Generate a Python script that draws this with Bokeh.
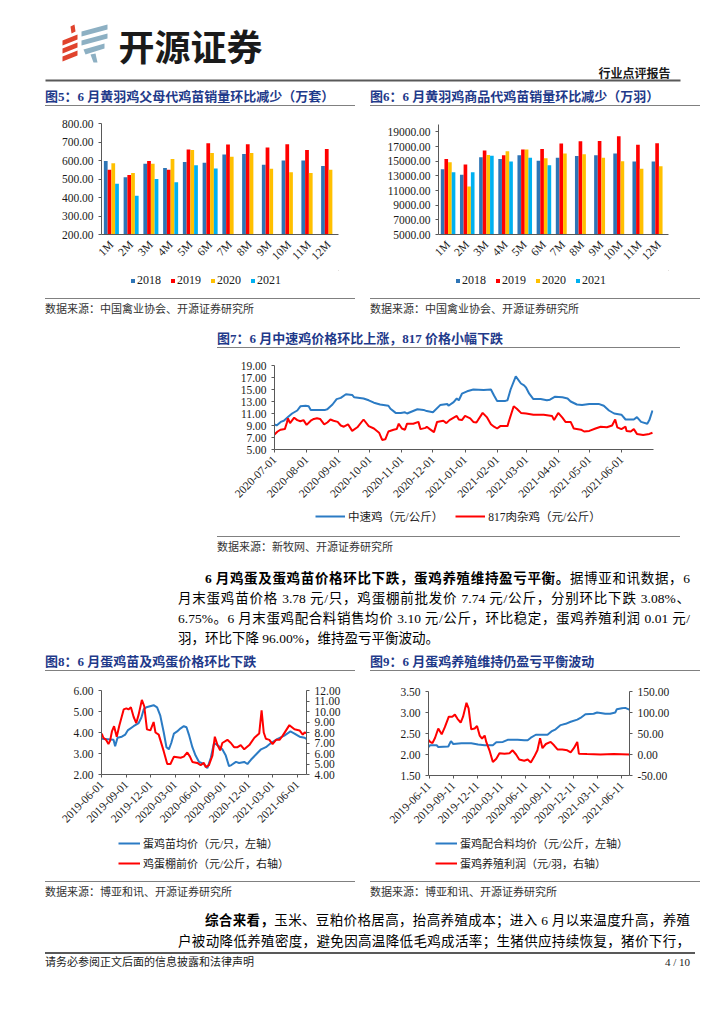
import math
import numpy as np
import pandas as pd
from bokeh.plotting import figure
from bokeh.models import (ColumnDataSource, FactorRange, Range1d, LinearAxis, FixedTicker,
                          PrintfTickFormatter, DatetimeTickFormatter, Legend, LegendItem, Div, Spacer)
from bokeh.layouts import column, row
from bokeh.transform import dodge
from bokeh.core.properties import value
from bokeh.embed import file_html
from bokeh.resources import INLINE

NAN = float("nan")

# ---------------- data ----------------
months = ["1M", "2M", "3M", "4M", "5M", "6M", "7M", "8M", "9M", "10M", "11M", "12M"]
years = ["2018", "2019", "2020", "2021"]

# Fig5: 黄羽鸡父母代鸡苗销量（万套）
f5_2018 = [597, 510, 582, 560, 592, 588, 632, 635, 577, 600, 600, 570]
f5_2019 = [550, 522, 597, 550, 660, 693, 686, 688, 670, 688, 657, 662]
f5_2020 = [585, 532, 582, 608, 657, 640, 620, 640, 555, 537, 533, 550]
f5_2021 = [475, 410, 500, 482, 575, 557, NAN, NAN, NAN, NAN, NAN, NAN]
f5_ticks = [200, 300, 400, 500, 600, 700, 800]

# Fig6: 黄羽鸡商品代鸡苗销量（万羽）
f6_2018 = [13900, 13150, 15550, 15300, 15800, 15050, 15450, 15700, 15800, 16050, 14950, 14950]
f6_2019 = [15300, 14550, 16450, 15800, 16600, 16650, 17400, 17700, 17750, 18400, 17250, 17450]
f6_2020 = [14850, 11550, 15850, 16350, 16600, 15400, 16050, 15950, 15450, 15000, 13950, 14300]
f6_2021 = [13500, 13500, 15750, 14950, 15450, 14450, NAN, NAN, NAN, NAN, NAN, NAN]
f6_ticks = [5000, 7000, 9000, 11000, 13000, 15000, 17000, 19000]

# Fig7: 中速鸡 / 817肉杂鸡（元/公斤）
f7_mid_dates = ["2020-07-01", "2020-07-03", "2020-07-07", "2020-07-10", "2020-07-14", "2020-07-18",
                "2020-07-23", "2020-07-26", "2020-07-31", "2020-08-03", "2020-08-05", "2020-08-19",
                "2020-08-21", "2020-08-26", "2020-08-30", "2020-09-03", "2020-09-08", "2020-09-14",
                "2020-09-16", "2020-09-25", "2020-09-30", "2020-10-05", "2020-10-11", "2020-10-19",
                "2020-10-21", "2020-10-26", "2020-10-31", "2020-11-04", "2020-11-06", "2020-11-16",
                "2020-11-22", "2020-11-25", "2020-12-01", "2020-12-08", "2020-12-15", "2020-12-16",
                "2020-12-21", "2020-12-24", "2020-12-26", "2020-12-29", "2021-01-03", "2021-01-09",
                "2021-01-19", "2021-01-26", "2021-01-29", "2021-02-01", "2021-02-09", "2021-02-11",
                "2021-02-14", "2021-02-19", "2021-02-24", "2021-02-27", "2021-03-01", "2021-03-04",
                "2021-03-08", "2021-03-15", "2021-03-21", "2021-03-24", "2021-03-29", "2021-04-05",
                "2021-04-10", "2021-04-13", "2021-04-19", "2021-04-24", "2021-05-01", "2021-05-10",
                "2021-05-15", "2021-05-20", "2021-05-25", "2021-06-01", "2021-06-05", "2021-06-13",
                "2021-06-16", "2021-06-20", "2021-06-26", "2021-06-28", "2021-07-01"]
f7_mid = [9.2, 9.0, 9.6, 9.8, 10.4, 11.0, 11.5, 12.2, 12.3, 12.2, 11.6, 11.6,
          11.7, 12.5, 13.4, 13.6, 14.2, 14.1, 13.7, 13.5, 13.2, 12.8, 12.5, 12.3,
          11.8, 11.1, 11.1, 11.2, 11.0, 11.7, 11.6, 11.4, 11.2, 12.4, 12.6, 12.3,
          12.9, 13.5, 13.2, 14.3, 14.7, 15.0, 14.9, 15.0, 14.0, 13.1, 13.1, 13.2,
          15.0, 17.2, 16.0, 15.7, 15.3, 14.3, 13.4, 13.4, 13.2, 13.3, 13.8, 13.7,
          13.5, 13.0, 12.5, 12.4, 12.6, 12.6, 12.3, 11.5, 11.0, 10.8, 10.0, 10.0,
          10.4, 9.6, 9.3, 9.9, 11.5]
f7_817_dates = ["2020-07-01", "2020-07-04", "2020-07-07", "2020-07-11", "2020-07-13", "2020-07-14",
                "2020-07-16", "2020-07-20", "2020-07-23", "2020-07-26", "2020-07-29", "2020-08-01",
                "2020-08-05", "2020-08-08", "2020-08-11", "2020-08-14", "2020-08-18", "2020-08-21",
                "2020-08-24", "2020-08-27", "2020-08-31", "2020-09-03", "2020-09-06", "2020-09-10",
                "2020-09-14", "2020-09-19", "2020-09-25", "2020-09-30", "2020-10-05", "2020-10-10",
                "2020-10-13", "2020-10-16", "2020-10-19", "2020-10-24", "2020-10-27", "2020-10-29",
                "2020-11-01", "2020-11-04", "2020-11-06", "2020-11-12", "2020-11-17", "2020-11-19",
                "2020-11-24", "2020-11-25", "2020-11-28", "2020-12-02", "2020-12-05", "2020-12-11",
                "2020-12-14", "2020-12-17", "2020-12-24", "2020-12-26", "2020-12-29", "2021-01-01",
                "2021-01-06", "2021-01-09", "2021-01-12", "2021-01-18", "2021-01-22", "2021-01-26",
                "2021-01-29", "2021-02-01", "2021-02-04", "2021-02-11", "2021-02-12", "2021-02-17",
                "2021-02-20", "2021-02-24", "2021-03-01", "2021-03-08", "2021-03-18", "2021-03-26",
                "2021-03-28", "2021-04-01", "2021-04-05", "2021-04-08", "2021-04-13", "2021-04-16",
                "2021-04-23", "2021-04-26", "2021-05-01", "2021-05-07", "2021-05-12", "2021-05-18",
                "2021-05-23", "2021-05-26", "2021-05-28", "2021-06-01", "2021-06-05", "2021-06-06",
                "2021-06-10", "2021-06-13", "2021-06-16", "2021-06-22", "2021-06-28", "2021-07-01"]
f7_817 = [7.5, 8.0, 8.3, 8.4, 9.5, 10.2, 9.4, 10.3, 9.9, 9.7, 9.9, 9.1,
          9.8, 10.1, 10.2, 10.1, 9.2, 9.5, 10.0, 9.8, 9.6, 9.0, 8.8, 9.2,
          8.1, 8.7, 10.0, 8.9, 8.5, 7.8, 6.6, 6.7, 8.0, 8.3, 8.4, 9.3,
          8.5, 8.3, 9.3, 9.3, 9.6, 8.4, 8.6, 8.8, 8.4, 7.9, 9.6, 9.8,
          9.4, 9.9, 10.6, 10.0, 9.9, 10.6, 10.2, 9.6, 9.5, 11.1, 10.4, 9.2,
          8.8, 8.5, 8.9, 8.9, 9.5, 12.2, 11.8, 11.1, 11.0, 10.8, 10.8, 10.6,
          9.9, 11.1, 10.3, 9.6, 9.6, 8.5, 8.3, 8.0, 8.1, 8.5, 8.8, 8.7,
          9.0, 10.0, 8.7, 8.4, 8.8, 8.1, 8.0, 8.4, 7.6, 7.4, 7.6, 7.8]
f7_ticks = ["2020-07-01", "2020-08-01", "2020-09-01", "2020-10-01", "2020-11-01", "2020-12-01",
            "2021-01-01", "2021-02-01", "2021-03-01", "2021-04-01", "2021-05-01", "2021-06-01"]
f7_yticks = [5, 7, 9, 11, 13, 15, 17, 19]

# Fig8: 蛋鸡苗均价（元/只，左轴）/ 鸡蛋棚前价（元/公斤，右轴）
f8_chick_dates = ["2019-06-01", "2019-07-15", "2019-07-21", "2019-07-30", "2019-08-15", "2019-08-28",
                  "2019-09-06", "2019-09-28", "2019-10-17", "2019-10-27", "2019-11-05", "2019-11-15",
                  "2019-12-12", "2019-12-25", "2020-01-06", "2020-01-19", "2020-01-29", "2020-02-07",
                  "2020-02-16", "2020-02-26", "2020-03-09", "2020-03-22", "2020-04-03", "2020-04-13",
                  "2020-04-22", "2020-05-05", "2020-05-17", "2020-05-30", "2020-06-17", "2020-06-30",
                  "2020-07-13", "2020-07-25", "2020-08-07", "2020-08-25", "2020-09-07", "2020-09-19",
                  "2020-09-28", "2020-10-15", "2020-10-27", "2020-11-15", "2020-11-27", "2020-12-10",
                  "2020-12-29", "2021-01-17", "2021-02-04", "2021-02-23", "2021-03-20", "2021-04-14",
                  "2021-05-07", "2021-05-22", "2021-06-10", "2021-06-29", "2021-07-05"]
f8_chick = [3.70, 3.65, 3.35, 3.75, 3.80, 3.90, 4.10, 4.30, 4.45, 4.70, 5.10, 5.20,
            5.30, 5.20, 4.80, 4.00, 3.30, 3.20, 3.50, 3.95, 4.05, 4.20, 4.30, 4.25,
            3.90, 3.30, 2.90, 2.60, 2.50, 2.30, 2.80, 3.50, 3.40, 3.20, 2.90, 2.40,
            2.45, 2.60, 2.55, 2.60, 2.50, 2.70, 2.95, 3.20, 3.30, 3.50, 3.70, 3.85,
            4.05, 3.95, 3.80, 3.75, 3.70]
f8_egg_dates = ["2019-06-01", "2019-06-07", "2019-06-17", "2019-06-26", "2019-07-02", "2019-07-09",
                "2019-07-17", "2019-07-27", "2019-08-06", "2019-08-22", "2019-09-01", "2019-09-09",
                "2019-09-18", "2019-09-28", "2019-10-08", "2019-10-17", "2019-10-29", "2019-11-07",
                "2019-11-17", "2019-11-30", "2019-12-12", "2019-12-19", "2019-12-31", "2020-01-06",
                "2020-01-19", "2020-02-01", "2020-02-13", "2020-02-26", "2020-03-22", "2020-04-03",
                "2020-04-16", "2020-04-26", "2020-05-05", "2020-05-23", "2020-06-05", "2020-06-17",
                "2020-06-24", "2020-07-06", "2020-07-19", "2020-07-28", "2020-08-07", "2020-08-17",
                "2020-08-25", "2020-09-13", "2020-09-26", "2020-10-08", "2020-10-21", "2020-11-02",
                "2020-11-15", "2020-12-04", "2020-12-23", "2021-01-10", "2021-01-19", "2021-01-27",
                "2021-02-04", "2021-02-17", "2021-03-01", "2021-03-14", "2021-03-27", "2021-04-08",
                "2021-05-03", "2021-05-22", "2021-06-10", "2021-06-22", "2021-06-29", "2021-07-05"]
f8_egg = [7.9, 7.5, 7.3, 6.9, 7.2, 8.1, 8.6, 7.6, 8.7, 10.2, 10.3, 10.2,
          10.4, 9.5, 8.9, 9.7, 11.1, 10.5, 8.3, 8.2, 9.0, 8.0, 7.8, 7.3,
          6.2, 5.0, 5.0, 5.7, 5.6, 5.7, 6.1, 5.7, 5.2, 5.1, 4.9, 5.1,
          4.7, 4.9, 5.8, 7.6, 6.8, 6.3, 7.0, 7.3, 7.0, 6.6, 6.6, 6.8,
          6.4, 6.8, 7.5, 7.9, 10.1, 8.0, 7.4, 7.3, 6.9, 7.3, 7.3, 7.7,
          8.7, 8.3, 8.2, 7.8, 8.0, 7.95]
f8_ticks = ["2019-06-01", "2019-09-01", "2019-12-01", "2020-03-01", "2020-06-01",
            "2020-09-01", "2020-12-01", "2021-03-01", "2021-06-01"]
f8_lticks = [2, 3, 4, 5, 6]
f8_rticks = [4, 5, 6, 7, 8, 9, 10, 11, 12]

# Fig9: 蛋鸡配合料均价（元/公斤，左轴）/ 蛋鸡养殖利润（元/羽，右轴）
f9_feed_dates = ["2019-06-09", "2019-06-15", "2019-07-10", "2019-07-16", "2019-08-23", "2019-09-02",
                 "2019-09-11", "2019-10-12", "2019-11-18", "2019-12-14", "2020-01-08", "2020-02-08",
                 "2020-02-21", "2020-03-17", "2020-04-04", "2020-05-12", "2020-06-06", "2020-06-19",
                 "2020-07-01", "2020-07-20", "2020-08-08", "2020-09-02", "2020-09-17", "2020-10-03",
                 "2020-10-22", "2020-11-10", "2020-11-29", "2020-12-24", "2021-01-05", "2021-01-24",
                 "2021-02-24", "2021-03-09", "2021-03-22", "2021-04-09", "2021-04-28", "2021-05-17",
                 "2021-05-23", "2021-06-11", "2021-06-24", "2021-07-09"]
f9_feed = [2.18, 2.22, 2.22, 2.18, 2.19, 2.32, 2.25, 2.27, 2.27, 2.24, 2.22, 2.22,
           2.29, 2.30, 2.35, 2.35, 2.34, 2.34, 2.40, 2.47, 2.47, 2.47, 2.55, 2.60,
           2.70, 2.73, 2.78, 2.83, 2.87, 2.96, 2.97, 3.00, 2.99, 2.97, 2.97, 3.00,
           3.08, 3.10, 3.11, 3.07]
f9_profit_dates = ["2019-06-09", "2019-06-15", "2019-06-24", "2019-07-04", "2019-07-16", "2019-07-29",
                   "2019-08-10", "2019-08-25", "2019-09-07", "2019-09-17", "2019-09-27", "2019-10-09",
                   "2019-10-18", "2019-10-31", "2019-11-08", "2019-11-18", "2019-12-01", "2019-12-10",
                   "2019-12-20", "2019-12-29", "2020-01-08", "2020-01-14", "2020-01-26", "2020-02-08",
                   "2020-02-21", "2020-03-04", "2020-03-23", "2020-04-11", "2020-04-23", "2020-05-06",
                   "2020-05-18", "2020-06-06", "2020-06-19", "2020-07-01", "2020-07-14", "2020-07-26",
                   "2020-08-05", "2020-08-14", "2020-08-27", "2020-09-14", "2020-09-27", "2020-10-10",
                   "2020-10-28", "2020-11-16", "2020-11-29", "2020-12-11", "2020-12-24", "2020-12-30",
                   "2021-01-30", "2021-03-22", "2021-05-11", "2021-07-09"]
f9_profit = [35, 30, 27, 40, 62, 48, 65, 90, 90, 95, 85, 76,
             90, 123, 110, 60, 62, 68, 45, 38, 45, 30, 10, -18,
             -10, 3, 2, 3, 10, 0, -12, -15, -12, -19, -5, 10,
             39, 15, 25, 30, 22, 12, 12, 10, 5, 15, 30, 2,
             1, 0, 1, 0]
f9_ticks = ["2019-06-11", "2019-09-11", "2019-12-11", "2020-03-11", "2020-06-11",
            "2020-09-11", "2020-12-11", "2021-03-11", "2021-06-11"]
f9_lticks = [1.5, 2.0, 2.5, 3.0, 3.5]
f9_rticks = [-50, 0, 50, 100, 150]

# ---------------- style ----------------
BAR_COLORS = ["#2E75B6", "#FF0000", "#FFC000", "#00B0F0"]
BAR_OFFSETS = [-0.285, -0.095, 0.095, 0.285]
BLUE = "#2B7BC4"
RED = "#FF0000"
AXC = "#595959"
TXT = "#1a1a1a"
NUMFONT = "Liberation Serif"
MIXFONT = "Liberation Serif, Noto Sans CJK SC"
CSSFONT = "'Liberation Serif','Noto Sans CJK SC',serif"
TITLE_BLUE = "#1F3A8A"


def ms(d):
    return pd.Timestamp(d).value / 1e6


def style_axis(ax):
    ax.axis_line_color = AXC
    ax.major_tick_line_color = AXC
    ax.minor_tick_line_color = None
    ax.major_tick_out = 3
    ax.major_tick_in = 0
    ax.major_label_text_font = NUMFONT
    ax.major_label_text_font_size = "11.5px"
    ax.major_label_text_color = TXT


def base_fig(w, h, mb, **kw):
    p = figure(width=w, height=h, output_backend="svg", toolbar_location=None,
               min_border_left=mb[0], min_border_right=mb[1], min_border_top=mb[2],
               min_border_bottom=mb[3], margin=0, **kw)
    p.outline_line_color = None
    p.grid.visible = False
    return p


def legend_fig(w, h, entries, kind, loc, orientation, gw, gh, lh, font, fsize, standoff, spacing):
    """Strip under a chart holding its legend; the keys are proxy glyphs (one point each,
    placed outside the strip's visible range) drawn with the same styles as the chart."""
    lf = figure(width=w, height=h, x_range=Range1d(0, 1), y_range=Range1d(0, 1),
                x_axis_location=None, y_axis_location=None, output_backend="svg",
                toolbar_location=None, min_border=0, margin=0)
    lf.outline_line_color = None
    lf.grid.visible = False
    items = []
    for label, color in entries:
        if kind == "bar":
            r = lf.vbar(x=[5], top=[5], bottom=4, width=0.1, fill_color=color, line_color=None)
        else:
            r = lf.line(x=[5, 6], y=[5, 5], line_color=color, line_width=2)
        items.append(LegendItem(label=label, renderers=[r]))
    lg = Legend(items=items, location=loc, orientation=orientation,
                border_line_color=None, background_fill_alpha=0, padding=0, margin=0,
                spacing=spacing, label_standoff=standoff, glyph_width=gw, glyph_height=gh,
                label_height=lh, label_text_font=font, label_text_font_size=fsize,
                label_text_color=TXT)
    lf.add_layout(lg)
    return lf


def bar_chart(vals, ymin, ymax, yticks, w, h, mb):
    data = {"month": months}
    for y, v in zip(years, vals):
        data["y" + y] = np.array(v, dtype=float)
    src = ColumnDataSource(data)
    p = base_fig(w, h, mb, x_range=FactorRange(factors=months), y_range=Range1d(ymin, ymax))
    for y, off, c in zip(years, BAR_OFFSETS, BAR_COLORS):
        p.vbar(x=dodge("month", off, range=p.x_range), top="y" + y, bottom=ymin,
               width=0.19, source=src, fill_color=c, line_color=None)
    p.yaxis.ticker = FixedTicker(ticks=yticks)
    p.yaxis.formatter = PrintfTickFormatter(format="%.2f")
    style_axis(p.xaxis)
    style_axis(p.yaxis)
    p.xaxis.major_tick_line_color = None
    p.xaxis.major_label_orientation = math.pi / 4
    return p


def dual_chart(w, h, mb, xr, xticks, l_dates, l_vals, l_range, l_ticks,
               r_dates, r_vals, r_range, r_ticks):
    p = base_fig(w, h, mb, x_axis_type="datetime",
                 x_range=Range1d(pd.Timestamp(xr[0]), pd.Timestamp(xr[1])),
                 y_range=Range1d(*l_range))
    p.extra_y_ranges = {"right": Range1d(*r_range)}
    p.line(pd.to_datetime(l_dates), l_vals, line_color=BLUE, line_width=2)
    p.line(pd.to_datetime(r_dates), r_vals, line_color=RED, line_width=2, y_range_name="right")
    rax = LinearAxis(y_range_name="right")
    p.add_layout(rax, "right")
    p.yaxis[0].ticker = FixedTicker(ticks=l_ticks)
    p.yaxis[0].formatter = PrintfTickFormatter(format="%.2f")
    rax.ticker = FixedTicker(ticks=r_ticks)
    rax.formatter = PrintfTickFormatter(format="%.2f")
    p.xaxis.ticker = FixedTicker(ticks=[ms(d) for d in xticks])
    p.xaxis.formatter = DatetimeTickFormatter(days="%Y-%m-%d", months="%Y-%m-%d", years="%Y-%m-%d")
    p.xaxis.major_label_orientation = math.pi / 4
    for ax in [p.xaxis[0], p.yaxis[0], rax]:
        style_axis(ax)
    return p


def title_div(text, w):
    html = ('<div style="width:%dpx;height:18px;line-height:18px;border-bottom:1.5px solid #808080;'
            'font-family:%s;font-size:13px;font-weight:bold;color:%s;white-space:nowrap;">%s</div>'
            % (w, CSSFONT, TITLE_BLUE, text))
    return Div(text=html, width=w, height=22, margin=0)


def source_div(text, w):
    html = ('<div style="width:%dpx;border-top:1.5px solid #808080;height:20px;line-height:20px;'
            'font-family:%s;font-size:11px;color:#333;white-space:nowrap;">%s</div>'
            % (w, CSSFONT, text))
    return Div(text=html, width=w, height=22, margin=0)


def para_div(lines, w, h, lh):
    parts = []
    for i, ln in enumerate(lines):
        last = "justify" if i < len(lines) - 1 or len(lines) == 2 else "left"
        indent = "text-indent:27px;" if i == 0 else ""
        parts.append('<div style="width:%dpx;text-align:justify;text-align-last:%s;white-space:nowrap;%s">%s</div>'
                     % (w, last, indent, ln))
    html = ('<div style="width:%dpx;font-family:%s;font-size:13.5px;line-height:%dpx;color:#000;">%s</div>'
            % (w, CSSFONT, lh, "".join(parts)))
    return Div(text=html, width=w, height=h, margin=0)


# ---------------- header ----------------
ph = figure(width=716, height=80, x_range=Range1d(8, 724), y_range=Range1d(88, 8),
            x_axis_location=None, y_axis_location=None, output_backend="svg",
            toolbar_location=None, min_border=0, margin=0)
ph.outline_line_color = None
ph.grid.visible = False
logo_xs = [[70, 74, 75, 71], [62, 77, 77, 62], [62, 77, 77, 62], [62, 77, 77, 62],
           [81, 107, 107, 81], [81, 107, 107, 81], [83, 104, 104, 85], [90, 95, 97, 93]]
logo_ys = [[26, 24, 31, 33], [40, 34, 39, 45], [48, 42, 47, 53], [56, 50, 55, 61],
           [31, 24, 29, 36], [40, 33, 38, 45], [49, 43, 48, 54], [54, 53, 62, 62]]
logo_c = ["#E0432D"] * 4 + ["#8DB0C3"] * 4
ph.patches(xs=logo_xs, ys=logo_ys, fill_color=logo_c, line_color=None)
ph.text(x=[118], y=[44], text=["开源证券"], text_font=value("Noto Sans CJK SC"),
        text_font_size="36px", text_font_style="bold", text_baseline="middle",
        text_color="#1a1a1a")
ph.text(x=[670], y=[72], text=["行业点评报告"], text_font=value("Noto Sans CJK SC"),
        text_font_size="12px", text_font_style="bold", text_baseline="middle",
        text_align="right", text_color="#1a1a1a")
ph.line(x=[45, 680], y=[80, 80], line_color="#595959", line_width=2)

# ---------------- charts ----------------
# (legend strips share the horizontal frame of the chart above them in each column)
bar_entries = list(zip(years, BAR_COLORS))
p5 = bar_chart([f5_2018, f5_2019, f5_2020, f5_2021], 200, 800, f5_ticks, 310, 160, (56, 17, 13, 36))
l5 = legend_fig(310, 28, bar_entries, "bar", (29, 10), "horizontal", 5, 5, 12, NUMFONT, "12px", 2, 9)
p6 = bar_chart([f6_2018, f6_2019, f6_2020, f6_2021], 5000, 20000, f6_ticks, 330, 160, (68, 32, 14, 36))
l6 = legend_fig(330, 28, bar_entries, "bar", (17, 10), "horizontal", 5, 5, 12, NUMFONT, "12px", 2, 9)

p7 = base_fig(463, 153, (57, 27, 13, 56), x_axis_type="datetime",
              x_range=Range1d(pd.Timestamp("2020-07-01"), pd.Timestamp("2021-07-02")),
              y_range=Range1d(5, 19))
p7.line(pd.to_datetime(f7_mid_dates), f7_mid, line_color=BLUE, line_width=2)
p7.line(pd.to_datetime(f7_817_dates), f7_817, line_color=RED, line_width=2)
p7.yaxis.ticker = FixedTicker(ticks=f7_yticks)
p7.yaxis.formatter = PrintfTickFormatter(format="%.2f")
p7.xaxis.ticker = FixedTicker(ticks=[ms(d) for d in f7_ticks])
p7.xaxis.formatter = DatetimeTickFormatter(days="%Y-%m-%d", months="%Y-%m-%d", years="%Y-%m-%d")
p7.xaxis.major_label_orientation = math.pi / 4
style_axis(p7.xaxis)
style_axis(p7.yaxis)
l7 = legend_fig(463, 31, [("中速鸡（元/公斤）", BLUE), ("817肉杂鸡（元/公斤）", RED)], "line",
                (41, 12), "horizontal", 30, 12, 12, MIXFONT, "11.5px", 3, 12)

p8 = dual_chart(310, 154, (56, 49, 15, 54), ("2019-05-31", "2021-07-06"), f8_ticks,
                f8_chick_dates, f8_chick, (2, 6), f8_lticks,
                f8_egg_dates, f8_egg, (4, 12), f8_rticks)
l8 = legend_fig(310, 52, [("蛋鸡苗均价（元/只，左轴）", BLUE), ("鸡蛋棚前价（元/公斤，右轴）", RED)],
                "line", (17, 8), "vertical", 22, 12, 20, MIXFONT, "11px", 3, 0)
p9 = dual_chart(330, 154, (58, 71, 16, 54), ("2019-06-09", "2021-07-10"), f9_ticks,
                f9_feed_dates, f9_feed, (1.5, 3.5), f9_lticks,
                f9_profit_dates, f9_profit, (-50, 150), f9_rticks)
l9 = legend_fig(330, 52, [("蛋鸡配合料均价（元/公斤，左轴）", BLUE), ("蛋鸡养殖利润（元/羽，右轴）", RED)],
                "line", (7, 8), "vertical", 22, 12, 20, MIXFONT, "11px", 3, 0)

# ---------------- text blocks ----------------
t5 = title_div("图5：6 月黄羽鸡父母代鸡苗销量环比减少（万套）", 310)
t6 = title_div("图6：6 月黄羽鸡商品代鸡苗销量环比减少（万羽）", 330)
t7 = title_div("图7：6 月中速鸡价格环比上涨，817 价格小幅下跌", 463)
t8 = title_div("图8：6 月蛋鸡苗及鸡蛋价格环比下跌", 310)
t9 = title_div("图9：6 月蛋鸡养殖维持仍盈亏平衡波动", 330)
s5 = source_div("数据来源：中国禽业协会、开源证券研究所", 310)
s6 = source_div("数据来源：中国禽业协会、开源证券研究所", 330)
s7 = source_div("数据来源：新牧网、开源证券研究所", 463)
s8 = source_div("数据来源：博亚和讯、开源证券研究所", 310)
s9 = source_div("数据来源：博亚和讯、开源证券研究所", 330)

para1 = para_div([
    "<b>6 月鸡蛋及蛋鸡苗价格环比下跌，蛋鸡养殖维持盈亏平衡。</b>据博亚和讯数据，6",
    "月末蛋鸡苗价格 3.78 元/只，鸡蛋棚前批发价 7.74 元/公斤，分别环比下跌 3.08%、",
    "6.75%。6 月末蛋鸡配合料销售均价 3.10 元/公斤，环比稳定，蛋鸡养殖利润 0.01 元/",
    "羽，环比下降 96.00%，维持盈亏平衡波动。"], 512, 84, 20)
para2 = para_div([
    "<b>综合来看，</b>玉米、豆粕价格居高，抬高养殖成本；进入 6 月以来温度升高，养殖",
    "户被动降低养殖密度，避免因高温降低毛鸡成活率；生猪供应持续恢复，猪价下行，"], 512, 42, 21)

footer = Div(text=('<div style="width:650px;border-top:2px solid #595959;height:20px;display:flex;'
                   'justify-content:space-between;align-items:center;font-family:%s;'
                   'font-size:11px;color:#1a1a1a;padding-right:5px;">'
                   '<span>请务必参阅正文后面的信息披露和法律声明</span><span>4 / 10</span></div>' % CSSFONT),
             width=655, height=22, margin=0)

# ---------------- layout ----------------
row1 = row(Spacer(width=37, height=10, margin=0), column(t5, p5, l5, s5),
           Spacer(width=15, height=10, margin=0), column(t6, p6, l6, s6))
row7 = row(Spacer(width=209, height=10, margin=0), column(t7, p7, l7, s7))
row2 = row(Spacer(width=37, height=10, margin=0), column(t8, p8, l8, s8),
           Spacer(width=15, height=10, margin=0), column(t9, p9, l9, s9))

page = column(
    Spacer(width=10, height=8, margin=0),
    ph,
    row1,
    Spacer(width=10, height=10, margin=0),
    row7,
    Spacer(width=10, height=11, margin=0),
    row(Spacer(width=170, height=10, margin=0), para1),
    row2,
    Spacer(width=10, height=7, margin=0),
    row(Spacer(width=170, height=10, margin=0), para2),
    row(Spacer(width=37, height=10, margin=0), footer),
)
root = row(Spacer(width=8, height=10, margin=0), page)

open("out.html", "w").write(file_html(root, INLINE))
